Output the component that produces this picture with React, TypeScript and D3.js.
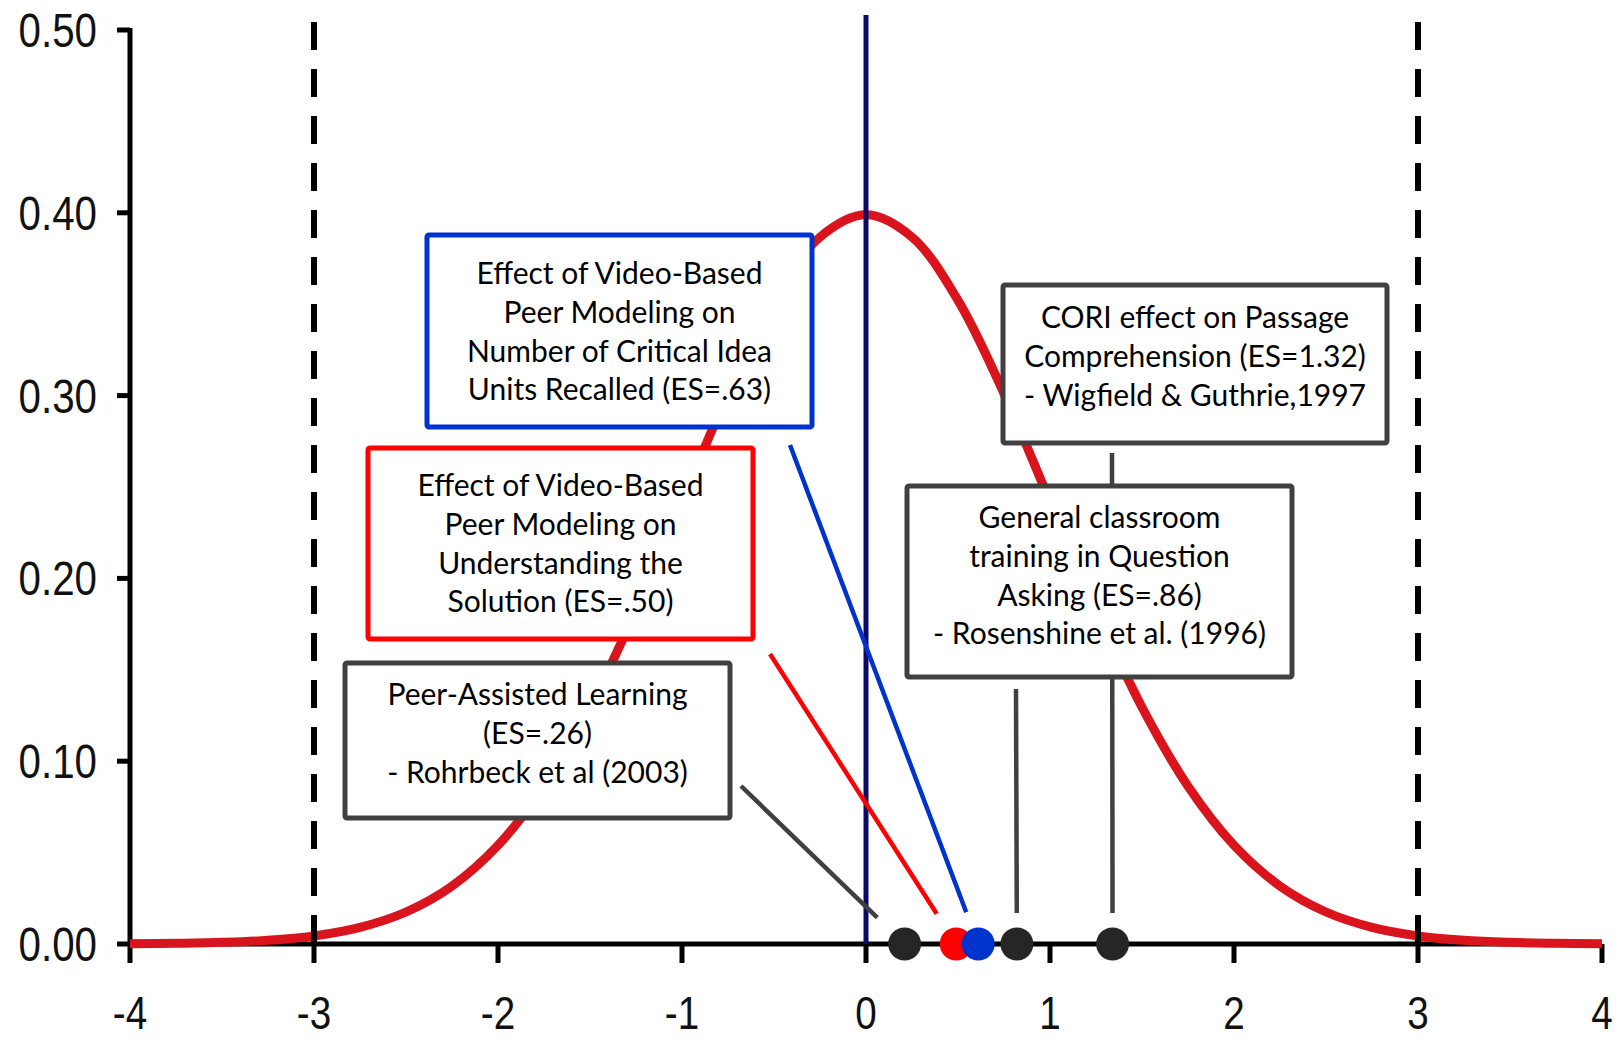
import * as d3 from "d3";

// standard normal curve, density read at 0.25 steps
const curveX = d3.range(-4, 4.0001, 0.25);
const curveY = [
  0.0001, 0.0004, 0.0009, 0.002, 0.0044, 0.0091, 0.0175, 0.0317, 0.054, 0.0863, 0.1295, 0.1826,
  0.242, 0.3011, 0.3521, 0.3867, 0.3989, 0.3867, 0.3521, 0.3011, 0.242, 0.1826, 0.1295, 0.0863,
  0.054, 0.0317, 0.0175, 0.0091, 0.0044, 0.002, 0.0009, 0.0004, 0.0001,
];

const xTicks = [-4, -3, -2, -1, 0, 1, 2, 3, 4];
const xTickLabels = ["-4", "-3", "-2", "-1", "0", "1", "2", "3", "4"];
const yTicks = [0, 0.1, 0.2, 0.3, 0.4, 0.5];
const yTickLabels = ["0.00", "0.10", "0.20", "0.30", "0.40", "0.50"];
const cutoffs = [-3, 3];
const mean = 0;

// effect sizes as placed on the axis
const studyNames = ["peer", "understanding", "ideaUnits", "question", "cori"];
const studyES = [0.21, 0.49, 0.61, 0.82, 1.34];
const studyLines = [
  ["Peer-Assisted Learning", "(ES=.26)", "- Rohrbeck et al (2003)"],
  ["Effect of Video-Based", "Peer Modeling on", "Understanding the", "Solution (ES=.50)"],
  ["Effect of Video-Based", "Peer Modeling on", "Number of Critical Idea", "Units Recalled (ES=.63)"],
  ["General classroom", "training in Question", "Asking (ES=.86)", "- Rosenshine et al. (1996)"],
  ["CORI effect on Passage", "Comprehension (ES=1.32)", "- Wigfield & Guthrie,1997"],
];

// layout only: annotation boxes, connector starts, colours
const boxes: Record<string, { x0: number; y0: number; x1: number; y1: number; base: number; from: [number, number]; gap: number; color: string; dot: string }> = {
  peer: { x0: 345, y0: 663, x1: 730, y1: 818, base: 705, from: [741, 786], gap: 38, color: "#404040", dot: "#262626" },
  understanding: { x0: 368, y0: 448, x1: 753, y1: 639, base: 496, from: [770, 654], gap: 36, color: "#ff0000", dot: "#ff0000" },
  ideaUnits: { x0: 427, y0: 235, x1: 812, y1: 427, base: 284, from: [790, 445], gap: 34, color: "#0033cc", dot: "#0033cc" },
  question: { x0: 907, y0: 486, x1: 1292, y1: 677, base: 528, from: [1016, 689], gap: 31, color: "#404040", dot: "#262626" },
  cori: { x0: 1003, y0: 285, x1: 1387, y1: 443, base: 328, from: [1112, 453], gap: 31, color: "#404040", dot: "#262626" },
};

const W = 1622, H = 1040;
const x = d3.scaleLinear().domain([-4, 4]).range([130, 1602]);
const y = d3.scaleLinear().domain([0, 0.5]).range([944, 30]);

const tickFont = "'Liberation Sans', Arial, sans-serif";
const boxFont = "Lato, 'Open Sans', sans-serif";

export default function App() {
  const line = d3
    .line<number>()
    .x((_, i) => x(curveX[i]))
    .y((d) => y(d))
    .curve(d3.curveCatmullRom);

  const y0 = y(0);

  return (
    <svg
      width={W}
      height={H}
      viewBox={`0 0 ${W} ${H}`}
      style={{ position: "absolute", left: 0, top: 0, background: "#fff" }}
    >
      {/* axes */}
      <g stroke="#000" strokeWidth={5}>
        <line x1={x(-4)} x2={x(4)} y1={y0} y2={y0} />
        <line x1={x(-4)} x2={x(-4)} y1={y(0.5) - 2} y2={y0 + 2} />
        {yTicks.map((t) => (
          <line key={"yt" + t} x1={x(-4) - 13} x2={x(-4)} y1={y(t)} y2={y(t)} />
        ))}
        {xTicks.map((t) => (
          <line key={"xt" + t} x1={x(t)} x2={x(t)} y1={y0} y2={y0 + 19} />
        ))}
      </g>
      {yTicks.map((t, i) => (
        <text
          key={"yl" + t}
          transform={`translate(${x(-4) - 33},${y(t) + 17}) scale(0.84,1)`}
          textAnchor="end"
          fontFamily={tickFont}
          fontSize={48}
          fill="#111"
        >
          {yTickLabels[i]}
        </text>
      ))}
      {xTicks.map((t, i) => (
        <text
          key={"xl" + t}
          transform={`translate(${x(t)},${1029}) scale(0.84,1)`}
          textAnchor="middle"
          fontFamily={tickFont}
          fontSize={46}
          fill="#111"
        >
          {xTickLabels[i]}
        </text>
      ))}

      {/* normal curve */}
      <path d={line(curveY) ?? ""} fill="none" stroke="#d9141c" strokeWidth={9} strokeLinecap="butt" />

      {/* -3 / +3 cutoffs and mean */}
      {cutoffs.map((c) => (
        <line
          key={"c" + c}
          x1={x(c)}
          x2={x(c)}
          y1={22}
          y2={y0}
          stroke="#000"
          strokeWidth={6}
          strokeDasharray="28 19"
        />
      ))}
      <line x1={x(mean)} x2={x(mean)} y1={15} y2={y0} stroke="#0a0a66" strokeWidth={5} />

      {/* connectors */}
      {studyNames.map((k, i) => {
        const b = boxes[k];
        const cx = x(studyES[i]), cy = y0;
        const dx = cx - b.from[0], dy = cy - b.from[1];
        const len = Math.hypot(dx, dy);
        return (
          <line
            key={"l" + k}
            x1={b.from[0]}
            y1={b.from[1]}
            x2={cx - (dx / len) * b.gap}
            y2={cy - (dy / len) * b.gap}
            stroke={b.color}
            strokeWidth={4.5}
          />
        );
      })}

      {/* annotation boxes */}
      {studyNames.map((k, i) => {
        const b = boxes[k];
        const mid = (b.x0 + b.x1) / 2;
        return (
          <g key={"b" + k}>
            <rect
              x={b.x0}
              y={b.y0}
              width={b.x1 - b.x0}
              height={b.y1 - b.y0}
              fill="#fff"
              stroke={b.color}
              strokeWidth={5}
              rx={2}
            />
            {studyLines[i].map((s, j) => (
              <text
                key={j}
                x={mid}
                y={b.base + j * 38.8}
                textAnchor="middle"
                fontFamily={boxFont}
                fontSize={30}
                fill="#000"
              >
                {s}
              </text>
            ))}
          </g>
        );
      })}

      {/* effect size dots */}
      {studyNames.map((k, i) => (
        <circle key={"d" + k} cx={x(studyES[i])} cy={y0} r={16.5} fill={boxes[k].dot} />
      ))}
    </svg>
  );
}
